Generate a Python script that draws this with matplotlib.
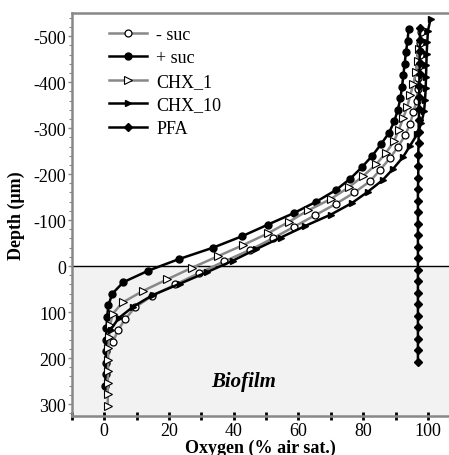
import numpy as np
import matplotlib.pyplot as plt
from matplotlib.ticker import MultipleLocator

# oxygen profiles, depth in um (negative = above biofilm)
minus_suc_depth = [-510, -485, -460, -435, -410, -385, -360, -335, -310, -285,
                   -260, -235, -210, -185, -160, -135, -110, -85, -60, -35,
                   -10, 15, 40, 65, 90, 115, 140, 165]
minus_suc_o2 = [97.8, 97.6, 97.4, 97.2, 97.0, 96.8, 96.5, 95.5, 94.5, 93.0,
                90.8, 88.3, 85.3, 82.2, 77.3, 71.5, 65.0, 58.5, 52.0, 45.0,
                37.0, 29.4, 22.0, 14.7, 9.5, 6.5, 4.2, 2.7]

plus_suc_depth = [-515, -490, -465, -440, -415, -390, -365, -340, -315, -290,
                  -265, -240, -215, -190, -165, -140, -115, -90, -65, -40,
                  -15, 10, 35, 60, 85, 110, 135, 160, 185, 210, 235, 260]
plus_suc_o2 = [94.0, 93.7, 93.2, 92.8, 92.4, 92.0, 91.5, 90.7, 89.6, 88.0,
               85.5, 82.8, 79.6, 76.0, 71.5, 65.5, 58.5, 50.5, 42.6, 33.6,
               23.0, 13.6, 5.9, 2.5, 1.3, 0.9, 0.7, 0.6, 0.5, 0.5, 0.4, 0.3]

chx1_depth = [-471, -446, -421, -396, -371, -346, -321, -296, -271, -246,
              -221, -196, -171, -146, -121, -96, -71, -46, -21, 4,
              29, 54, 79, 104, 129, 154, 179, 204, 229, 254, 279, 304]
chx1_o2 = [97.2, 96.8, 96.2, 95.5, 94.5, 93.6, 92.3, 91.0, 89.5, 87.0,
           84.0, 80.0, 75.5, 70.0, 63.0, 57.0, 50.5, 43.0, 35.0, 27.0,
           19.4, 12.0, 5.7, 2.6, 1.8, 1.5, 1.3, 1.2, 1.2, 1.1, 1.1, 1.1]

chx10_depth = [-537, -512, -487, -462, -437, -412, -387, -362, -337, -312,
               -287, -262, -237, -212, -187, -162, -137, -112, -87, -62,
               -37, -12, 13, 38, 63, 88, 113, 138]
chx10_o2 = [100.8, 100.0, 99.8, 99.6, 99.5, 99.4, 99.3, 99.1, 98.8, 98.0,
            96.7, 94.5, 92.3, 89.3, 86.0, 81.5, 76.5, 70.0, 62.0, 54.5,
            47.0, 39.8, 31.8, 23.5, 15.0, 9.0, 4.5, 2.0]

pfa_depth = [-517, -492, -467, -442, -417, -392, -367, -342, -317, -292,
             -267, -242, -217, -192, -167, -142, -117, -92, -67, -42,
             -17, 8, 33, 58, 83, 108, 133, 158, 183, 208]
pfa_o2 = [97.6, 97.5, 97.5, 97.4, 97.4, 97.3, 97.3, 97.2, 97.2, 97.1,
          97.1, 97.0, 97.0, 97.0, 96.9, 96.9, 96.9, 96.9, 96.9, 96.9,
          96.9, 96.9, 96.9, 96.9, 96.9, 96.9, 96.9, 96.9, 96.9, 96.9]

plt.rcParams['font.family'] = ['Liberation Serif', 'DejaVu Serif']
plt.rcParams['axes.unicode_minus'] = False

fig = plt.figure(figsize=(4.49, 4.56), dpi=100)
ax = fig.add_axes([0.160, 0.0855, 0.840, 0.8835])

# biofilm region shading
ax.axhspan(0, 330, color='#f2f2f2', zorder=0)
ax.axhline(0, color='black', lw=1.0, zorder=1)

ms = 5
ax.plot(minus_suc_o2, minus_suc_depth, color='#888888', lw=1.8, marker='o',
        ms=ms, mfc='white', mec='black', mew=0.9, label='- suc', zorder=3)
ax.plot(plus_suc_o2, plus_suc_depth, color='black', lw=1.8, marker='o',
        ms=ms, mfc='black', mec='black', label='+ suc', zorder=3)
ax.plot(chx1_o2, chx1_depth, color='#888888', lw=1.8, marker='>',
        ms=ms + 0.5, mfc='white', mec='black', mew=0.8, label='CHX_1', zorder=3)
ax.plot(chx10_o2, chx10_depth, color='black', lw=1.8, marker='>',
        ms=ms, mfc='black', mec='black', label='CHX_10', zorder=3)
ax.plot(pfa_o2, pfa_depth, color='black', lw=1.8, marker='D',
        ms=3.8, mfc='black', mec='black', label='PFA', zorder=3)

ax.set_xlim(-10, 106.5)
ax.set_ylim(326, -550)

ax.set_xticks([0, 20, 40, 60, 80, 100])
ax.xaxis.set_minor_locator(MultipleLocator(10))
ax.set_yticks([300, 200, 100, 0, -100, -200, -300, -400, -500])
ax.yaxis.set_minor_locator(MultipleLocator(20))

ax.spines['right'].set_visible(False)
for side in ['left', 'top', 'bottom']:
    ax.spines[side].set_color('#888888')
    ax.spines[side].set_linewidth(1.8)

ax.tick_params(axis='x', which='both', direction='inout', length=6, width=2,
               color='black', labelsize=13, pad=1)
ax.tick_params(axis='y', which='major', direction='out', length=3, width=1,
               color='#888888', labelsize=13, pad=1)
ax.tick_params(axis='y', which='minor', direction='out', length=2, width=0.8,
               color='#888888')

ax.set_xlabel('Oxygen (% air sat.)', fontsize=13, fontweight='bold', labelpad=0)
ax.set_ylabel('Depth (\u03bcm)', fontsize=13, fontweight='bold', labelpad=6)

ax.text(43, 250, 'Biofilm', fontsize=15, fontweight='bold', fontstyle='italic',
        ha='center', va='center')

ax.legend(loc='upper left', bbox_to_anchor=(0.07, 0.995), frameon=False,
          fontsize=13, handlelength=2.1, labelspacing=0.36, handletextpad=0.5,
          borderaxespad=0.2)

fig.savefig('out.png', dpi=100)
